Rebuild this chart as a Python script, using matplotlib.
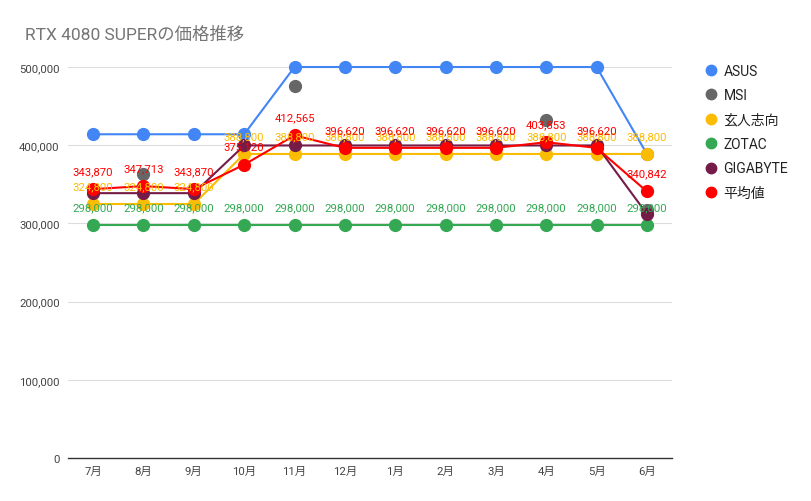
import numpy as np
import matplotlib
matplotlib.use("Agg")
from matplotlib import pyplot as plt
from matplotlib.lines import Line2D

plt.rcParams['font.family'] = ['Roboto', 'Noto Sans CJK JP', 'DejaVu Sans']

months = ['7月', '8月', '9月', '10月', '11月', '12月', '1月', '2月', '3月', '4月', '5月', '6月']
nan = np.nan
asus = [414000, 414000, 414000, 414000, 500000, 500000, 500000, 500000, 500000, 500000, 500000, 388800]
msi = [nan, 363085, nan, nan, 476345, nan, nan, nan, nan, 432785, nan, 316610]
kuroto = [324800, 324800, 324800, 388800, 388800, 388800, 388800, 388800, 388800, 388800, 388800, 388800]
zotac = [298000] * 12
gigabyte = [338680, 338680, 338680, 399680, 399680, 399680, 399680, 399680, 399680, 399680, 399680, 312000]
average = [343870, 347713, 343870, 375120, 412565, 396620, 396620, 396620, 396620, 403853, 396620, 340842]

series = [
    ('ASUS', asus, '#4285F4', False),
    ('MSI', msi, '#666666', False),
    ('玄人志向', kuroto, '#FBBC04', True),
    ('ZOTAC', zotac, '#34A853', True),
    ('GIGABYTE', gigabyte, '#741B47', False),
    ('平均値', average, '#FF0000', True),
]

fig = plt.figure(figsize=(8.12, 5.02), dpi=100)
ax = fig.add_axes([0.0837, 0.0857, 0.744, 0.7788])
x = np.arange(len(months))

for name, vals, col, lab in series:
    ax.plot(x, vals, color=col, lw=1.5, marker='o', ms=8.5, clip_on=False, zorder=3)

# data labels only for the series that show them
for name, vals, col, lab in series:
    if not lab:
        continue
    for xi, v in zip(x, vals):
        ax.annotate(f"{v:,}", (xi, v), xytext=(0, 13), textcoords='offset points',
                    ha='center', va='center', fontsize=8.2, color=col, zorder=5)

ax.set_xlim(-0.5, 11.5)
ax.set_ylim(0, 500000)
ax.set_yticks(range(0, 500001, 100000))
ax.set_yticklabels([f"{v:,}" for v in range(0, 500001, 100000)])
ax.set_xticks(x)
ax.set_xticklabels(months)
ax.tick_params(length=0, labelsize=8.2, colors='#444444')
ax.tick_params(axis='x', pad=6)
ax.tick_params(axis='y', pad=6)
ax.grid(axis='y', color='#dddddd', lw=0.8)
ax.set_axisbelow(True)
for s in ['top', 'right', 'left']:
    ax.spines[s].set_visible(False)
ax.spines['bottom'].set_color('#333333')
ax.spines['bottom'].set_linewidth(1)

fig.text(25 / 812, 1 - 35 / 502, 'RTX 4080 SUPERの価格推移', fontsize=12.5, color='#757575',
         va='center', ha='left')

handles = [Line2D([], [], marker='o', ls='none', color=c, ms=7.5) for _, _, c, _ in series]
fig.legend(handles, [s[0] for s in series], loc='upper left', bbox_to_anchor=(0.85, 0.896),
           frameon=False, fontsize=10, labelspacing=0.75, handletextpad=0.3,
           handlelength=1.2, labelcolor='#222222')

fig.savefig('out.png', dpi=100)
